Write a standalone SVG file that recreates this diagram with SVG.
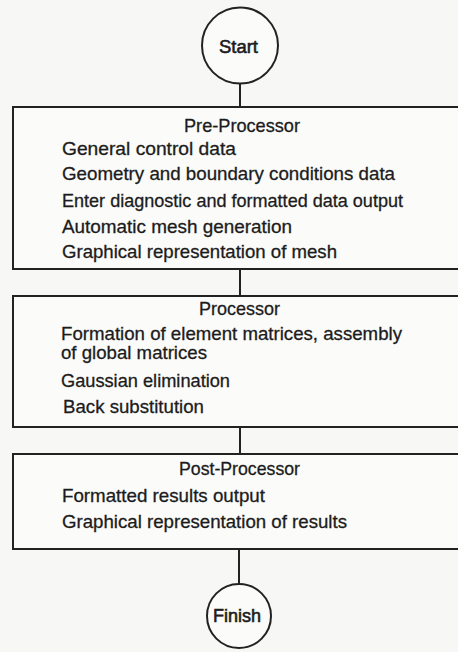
<svg xmlns="http://www.w3.org/2000/svg" width="458" height="652" viewBox="0 0 458 652">
<style>
.bg{fill:#f7f7f6}
.shape{fill:#fbfbfa;stroke:#222;stroke-width:2}
.conn{stroke:#222;stroke-width:2;fill:none}
text{font-family:"Liberation Sans","Arial",sans-serif;fill:#1c1c1c;font-size:18.5px;stroke:#1c1c1c;stroke-width:0.3}
.term{font-size:19px;stroke-width:0.6}
</style>
<rect class="bg" x="0" y="0" width="458" height="652"/>
<g id="connectors">
<line class="conn" x1="240" y1="83" x2="240" y2="107"/>
<line class="conn" x1="240" y1="269" x2="240" y2="296"/>
<line class="conn" x1="240" y1="427" x2="240" y2="454"/>
<line class="conn" x1="239" y1="549" x2="239" y2="584"/>
</g>
<g id="start">
<circle class="shape" cx="240" cy="45.5" r="38"/>
<text class="term" x="219" y="53" textLength="39" lengthAdjust="spacingAndGlyphs">Start</text>
</g>
<g id="preprocessor">
<rect class="shape" x="13" y="107" width="460" height="162"/>
<text x="184" y="132" textLength="116" lengthAdjust="spacingAndGlyphs">Pre-Processor</text>
<text x="62" y="155" textLength="174" lengthAdjust="spacingAndGlyphs">General control data</text>
<text x="62" y="180" textLength="333" lengthAdjust="spacingAndGlyphs">Geometry and boundary conditions data</text>
<text x="62" y="207" textLength="341" lengthAdjust="spacingAndGlyphs">Enter diagnostic and formatted data output</text>
<text x="62" y="233" textLength="230" lengthAdjust="spacingAndGlyphs">Automatic mesh generation</text>
<text x="62" y="258" textLength="275" lengthAdjust="spacingAndGlyphs">Graphical representation of mesh</text>
</g>
<g id="processor">
<rect class="shape" x="13" y="296" width="460" height="131"/>
<text x="199" y="315" textLength="81" lengthAdjust="spacingAndGlyphs">Processor</text>
<text x="61" y="340" textLength="341" lengthAdjust="spacingAndGlyphs">Formation of element matrices, assembly</text>
<text x="61" y="359" textLength="146" lengthAdjust="spacingAndGlyphs">of global matrices</text>
<text x="61" y="387" textLength="169" lengthAdjust="spacingAndGlyphs">Gaussian elimination</text>
<text x="63" y="413" textLength="141" lengthAdjust="spacingAndGlyphs">Back substitution</text>
</g>
<g id="postprocessor">
<rect class="shape" x="13" y="454" width="460" height="95"/>
<text x="179" y="475" textLength="121" lengthAdjust="spacingAndGlyphs">Post-Processor</text>
<text x="62" y="502" textLength="203" lengthAdjust="spacingAndGlyphs">Formatted results output</text>
<text x="62" y="528" textLength="285" lengthAdjust="spacingAndGlyphs">Graphical representation of results</text>
</g>
<g id="finish">
<circle class="shape" cx="239" cy="616" r="32"/>
<text class="term" x="213" y="622" textLength="48" lengthAdjust="spacingAndGlyphs">Finish</text>
</g>
</svg>
